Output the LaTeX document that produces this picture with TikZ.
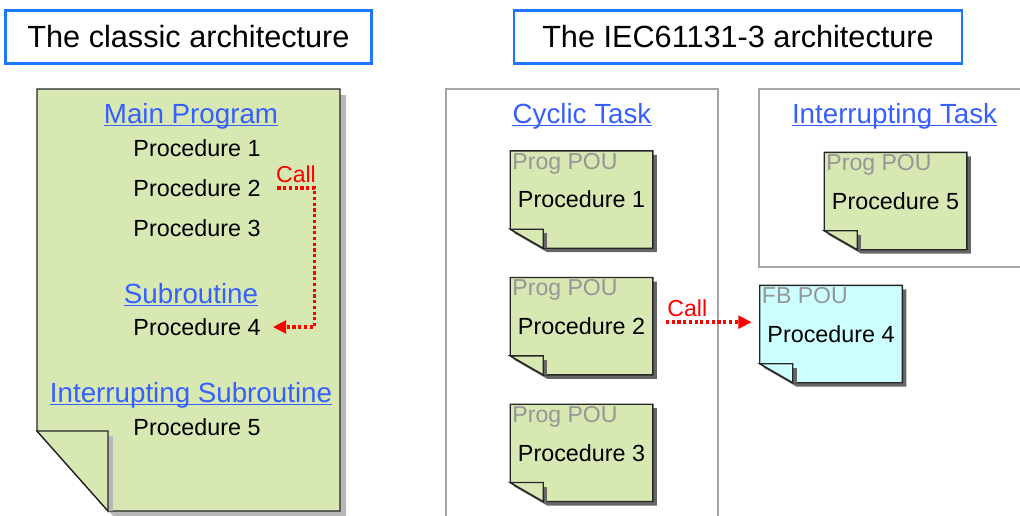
\documentclass[tikz,border=0pt]{standalone}
\usepackage{fontspec}
\setmainfont{Liberation Sans}
\usetikzlibrary{arrows.meta,calc,positioning,backgrounds}
\definecolor{olivepale}{RGB}{215,232,178}
\definecolor{cyanpale}{RGB}{204,255,255}
\definecolor{titleblue}{RGB}{30,120,255}
\definecolor{linkblue}{RGB}{55,95,255}
\definecolor{taskgray}{RGB}{165,165,165}
\definecolor{pougray}{RGB}{150,150,150}
\tikzset{
  titulo/.style={
    draw=titleblue,
    line width=2.2pt,
    minimum height=40pt,
    inner sep=0pt,
    font=\fontsize{23}{27}\selectfont
  },
  enlace/.style={
    text=linkblue,
    inner sep=0pt,
    anchor=base,
    font=\fontsize{20.8}{24}\selectfont,
    append after command={([yshift=-1.8pt]\tikzlastnode.base west)
      edge[draw=linkblue,line width=1.2pt] ([yshift=-1.8pt]\tikzlastnode.base east)}
  },
  proc/.style={
    inner sep=0pt,
    font=\fontsize{17.5}{20}\selectfont
  },
  tarea/.style={
    draw=taskgray,
    line width=2.2pt
  },
  hoja/.style={
    fill=olivepale,
    draw=black!85,
    line width=1pt
  },
  pou/.style={
    minimum width=107pt,
    minimum height=73pt,
    inner sep=0pt,
    outer sep=0pt,
    font=\fontsize{17.5}{20}\selectfont,
    label={[anchor=north west,inner sep=1.5pt,text=pougray,font=\fontsize{17.3}{20}\selectfont]north west:#1}
  },
  pou/.default={Prog POU},
  call/.style={
    red,
    line width=2.6pt,
    dash pattern=on 2.4pt off 1.9pt,
    -{Triangle[length=10pt,width=9.5pt]}
  },
  llamada/.style={
    text=red,
    inner sep=0pt,
    font=\fontsize{17.3}{20}\selectfont
  }
}

\begin{document}
\begin{tikzpicture}[x=0.75pt,y=-0.75pt,node distance=95pt,on grid]
\path[use as bounding box,clip] (0,0) rectangle (1020,515);
\node[titulo,minimum width=275pt] (t1) at (188.5,37) {The classic architecture};
\node[titulo,minimum width=336pt] (t2) at (738,37) {The IEC61131-3 architecture};

% classic program page
\fill[black!28] (42,95) -- (346,95) -- (346,516) -- (113,516) -- (42,436) -- cycle;
\draw[hoja] (37,89) -- (340,89) -- (340,511) -- (108,511) -- (37,431) -- cycle;
\fill[black!28] (108,436) rectangle (113,511);
\draw[hoja] (37,431) -- (108,431) -- (108,511) -- cycle;

\node[enlace] (main) at (191,123) {Main Program};
\node[proc] (lp1) at (197,148) {Procedure 1};
\node[proc,below=30pt of lp1] (lp2) {Procedure 2};
\node[proc,below=30pt of lp2] (lp3) {Procedure 3};
\node[enlace] (sub) at (191,303) {Subroutine};
\node[proc] (lp4) at (197,327) {Procedure 4};
\node[enlace] (isub) at (191,402) {Interrupting Subroutine};
\node[proc] (lp5) at (197,427) {Procedure 5};

% tasks
\draw[tarea] (446,89) rectangle (718,540);
\draw[tarea] (759,89) rectangle (1040,267);
\node[enlace] (cyc) at (582,123) {Cyclic Task};
\node[enlace] (itask) at (894.5,123) {Interrupting Task};

\node[pou] (c1) at (581.5,199.5) {Procedure 1};
\node[pou,below=of c1] (c2) {Procedure 2};
\node[pou,below=of c2] (c3) {Procedure 3};
\node[pou] (i1) at (895.5,201) {Procedure 5};
\node[pou=FB POU] (fb) at (831,334) {Procedure 4};

\begin{scope}[on background layer]
\foreach \n/\col in {c1/olivepale,c2/olivepale,c3/olivepale,i1/olivepale,fb/cyanpale}{
  \fill[black!60] ([shift={(4,4)}]\n.north west) -- ([shift={(4,4)}]\n.north east)
    -- ([shift={(4,4)}]\n.south east) -- ([shift={(37,4)}]\n.south west)
    -- ([shift={(4,-15)}]\n.south west) -- cycle;
  \draw[hoja,fill=\col] (\n.north west) -- (\n.north east) -- (\n.south east)
    -- ([shift={(33,0)}]\n.south west) -- ([shift={(0,-19)}]\n.south west) -- cycle;
  \fill[black!60] ([shift={(33,-15)}]\n.south west) rectangle ([shift={(37,0)}]\n.south west);
  \draw[hoja,fill=\col] ([shift={(0,-19)}]\n.south west) -- ([shift={(33,-19)}]\n.south west)
    -- ([shift={(33,0)}]\n.south west) -- cycle;
}
\end{scope}

% calls
\draw[call] ([xshift=12.5pt]lp2.east) -- node[llamada,above=3pt] (lcall) {Call} ++(37,0)
  |- ([xshift=9pt]lp4.east);
\coordinate (rc) at ([shift={(13,-4)}]c2.east);
\draw[call] (rc) -- node[llamada,pos=0.25,above=3pt] (rcall) {Call} ($(rc -| fb.west)+(-8,0)$);
\end{tikzpicture}
\end{document}
